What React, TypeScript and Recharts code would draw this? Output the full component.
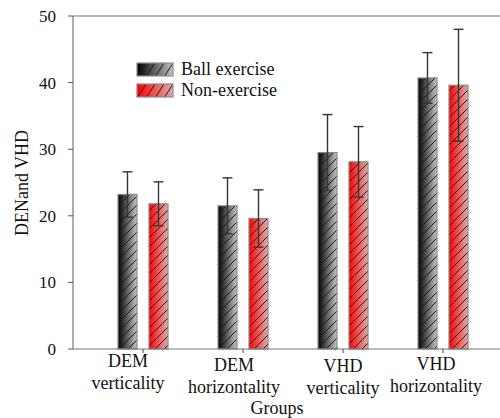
import React from 'react';
import { BarChart, Bar, XAxis, YAxis, ErrorBar, ReferenceLine, Label } from 'recharts';

const categoryTop = ['DEM', 'DEM', 'VHD', 'VHD'];
const categoryBottom = ['verticality', 'horizontality', 'verticality', 'horizontality'];
const ballMeans = [23.2, 21.5, 29.5, 40.7];
const ballSD = [3.4, 4.2, 5.7, 3.8];
const nonMeans = [21.8, 19.6, 28.1, 39.6];
const nonSD = [3.3, 4.3, 5.3, 8.4];
const yTicks = [0, 10, 20, 30, 40, 50];
const seriesNames = ['Ball exercise', 'Non-exercise'];

const data = categoryTop.map((t, i) => ({
  name: `${t} ${categoryBottom[i]}`,
  ball: ballMeans[i],
  ballErr: ballSD[i],
  non: nonMeans[i],
  nonErr: nonSD[i],
}));

const FONT = "'Liberation Serif', 'Times New Roman', serif";
const tickShiftX = [-15, -9, 0, -7];
const tickShiftY = [-2, 2, 3, 1];

const HatchRect = (props: any) => {
  const { x, y, width, height, grad } = props;
  if (width == null || height == null || height <= 0) return null;
  return (
    <g>
      <rect x={x} y={y} width={width} height={height} fill={`url(#${grad})`} />
      <rect x={x} y={y} width={width} height={height} fill="url(#hatch)" />
      <rect x={x} y={y} width={width} height={height} fill="none" stroke="#8a8a8a" strokeWidth={1.2} />
    </g>
  );
};

const XTick = (props: any) => {
  const { x, y, index } = props;
  const dx = tickShiftX[index] || 0;
  const dy = tickShiftY[index] || 0;
  return (
    <g transform={`translate(${x + dx},${y + dy})`}>
      <text x={0} y={14} textAnchor="middle" fontFamily={FONT} fontSize={18} fill="#111">
        {categoryTop[index]}
      </text>
      <text x={0} y={36} textAnchor="middle" fontFamily={FONT} fontSize={18} fill="#111">
        {categoryBottom[index]}
      </text>
    </g>
  );
};

const YTick = (props: any) => {
  const { x, y, payload } = props;
  return (
    <text x={x} y={y} dy={6} textAnchor="end" fontFamily={FONT} fontSize={17} fill="#111">
      {payload.value}
    </text>
  );
};

export default function App() {
  return (
    <div
      style={{
        position: 'absolute',
        left: 0,
        top: 0,
        width: 500,
        height: 418,
        background: '#fff',
        fontFamily: FONT,
      }}
    >
      <BarChart
        width={500}
        height={418}
        data={data}
        margin={{ top: 16, right: 0, left: 0, bottom: 0 }}
        barSize={19}
        barGap={12}
      >
        <defs>
          <linearGradient id="gradBlack" x1="0" y1="0" x2="1" y2="0">
            <stop offset="0%" stopColor="#000000" />
            <stop offset="100%" stopColor="#c4c4c4" />
          </linearGradient>
          <linearGradient id="gradRed" x1="0" y1="0" x2="1" y2="0">
            <stop offset="0%" stopColor="#ff0000" />
            <stop offset="100%" stopColor="#e0aaaa" />
          </linearGradient>
          <pattern id="hatch" patternUnits="userSpaceOnUse" width={9} height={9}>
            <line x1={0} y1={9} x2={9} y2={0} stroke="#1a1a1a" strokeWidth={1} />
            <line x1={-1} y1={1} x2={1} y2={-1} stroke="#1a1a1a" strokeWidth={1} />
            <line x1={8} y1={10} x2={10} y2={8} stroke="#1a1a1a" strokeWidth={1} />
          </pattern>
          <pattern id="hatchL" patternUnits="userSpaceOnUse" width={9} height={14}>
            <line x1={0} y1={14} x2={9} y2={0} stroke="#1a1a1a" strokeWidth={1} />
          </pattern>
        </defs>
        <XAxis
          dataKey="name"
          padding={{ left: 20, right: 7 }}
          axisLine={{ stroke: '#777', strokeWidth: 1.2 }}
          tickLine={{ stroke: '#444' }}
          tickSize={4}
          tick={<XTick />}
          interval={0}
          height={69}
        >
          <Label
            content={() => (
              <text x={277} y={414} textAnchor="middle" fontFamily={FONT} fontSize={18} fill="#111">
                Groups
              </text>
            )}
          />
        </XAxis>
        <YAxis
          domain={[0, 50]}
          ticks={yTicks}
          width={73}
          axisLine={{ stroke: '#777', strokeWidth: 1.2 }}
          tickLine={{ stroke: '#555' }}
          tickSize={5}
          tickMargin={12}
          tick={<YTick />}
        >
          <Label
            content={() => (
              <text
                x={0}
                y={0}
                transform="translate(28,183) rotate(-90)"
                textAnchor="middle"
                fontFamily={FONT}
                fontSize={18}
                fill="#111"
              >
                DENand VHD
              </text>
            )}
          />
        </YAxis>
        <ReferenceLine y={50} stroke="#777" strokeWidth={1.2} />
        <Bar
          dataKey="ball"
          name={seriesNames[0]}
          isAnimationActive={false}
          shape={(p: any) => <HatchRect {...p} grad="gradBlack" />}
        >
          <ErrorBar dataKey="ballErr" width={5} stroke="#333" strokeWidth={1.4} />
        </Bar>
        <Bar
          dataKey="non"
          name={seriesNames[1]}
          isAnimationActive={false}
          shape={(p: any) => <HatchRect {...p} grad="gradRed" />}
        >
          <ErrorBar dataKey="nonErr" width={5} stroke="#333" strokeWidth={1.4} />
        </Bar>
      </BarChart>
      <svg
        width={180}
        height={50}
        style={{ position: 'absolute', left: 130, top: 55, overflow: 'visible' }}
      >
        {seriesNames.map((n, i) => (
          <g key={n} transform={`translate(7,${8 + i * 21})`}>
            <rect x={0} y={0} width={36} height={13} fill={`url(#${i === 0 ? 'gradBlack' : 'gradRed'})`} />
            <rect x={0} y={0} width={36} height={13} fill="url(#hatchL)" />
            <rect x={0} y={0} width={36} height={13} fill="none" stroke="#8a8a8a" strokeWidth={1.2} />
            <text x={44} y={12} fontFamily={FONT} fontSize={18} fill="#111">
              {n}
            </text>
          </g>
        ))}
      </svg>
    </div>
  );
}
